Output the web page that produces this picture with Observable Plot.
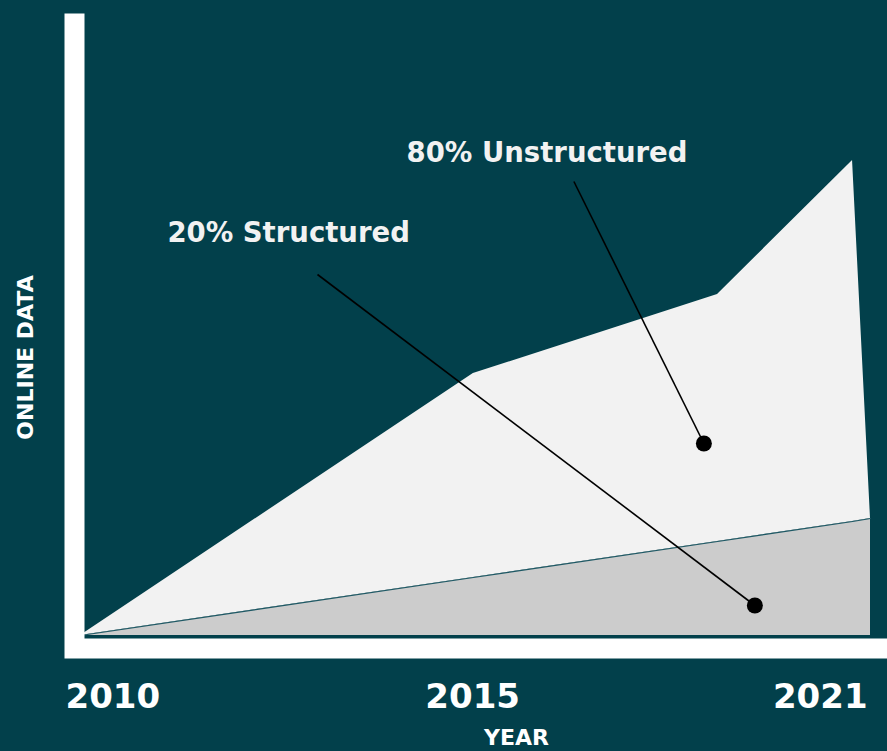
<!DOCTYPE html>
<html>
<head>
<meta charset="utf-8">
<script src="https://cdn.jsdelivr.net/npm/d3@7"></script>
<script src="https://cdn.jsdelivr.net/npm/@observablehq/plot@0.6"></script>
<style>
  html, body { margin: 0; padding: 0; background: #02404b; }
  #chart { width: 887px; height: 751px; overflow: hidden; }
</style>
</head>
<body>
<div id="chart"></div>
<script>
// Years (x positions of the shape's vertices)
const years = [2010, 2015.47, 2018.87, 2020.75, 2021];
// Structured data (lower, grey band)
const structured = [0, 58, 94, 114, 117];
// Total online data (top of the light band)
const unstructuredTop = [0, 262, 341, 475, 117];

// Tick labels along the bottom
const tickLabels = ["2010", "2015", "2021"];
const tickPositions = [2010.45, 2015.46, 2020.3];

// Annotations
const annotationLabels = ["80% Unstructured", "20% Structured"];
const annotationTextX = [2014.54, 2011.21];
const annotationTextY = [474, 394];
const leaderStartX = [2016.87, 2013.30];
const leaderStartY = [454, 361];
const leaderEndX = [2018.68, 2019.39];
const leaderEndY = [192, 30];

const rows = years.map((x, i) => ({x, s: structured[i], u: unstructuredTop[i]}));
const ticks = tickLabels.map((label, i) => ({label, x: tickPositions[i]}));
const notes = annotationLabels.map((label, i) => ({
  label, tx: annotationTextX[i], ty: annotationTextY[i],
  x1: leaderStartX[i], y1: leaderStartY[i], x2: leaderEndX[i], y2: leaderEndY[i]
}));
// the white L-shaped axis frame
const axisFrame = [
  {x: 2009.9165, y: 622},
  {x: 2009.9165, y: -13},
  {x: 2021.5, y: -13}
];

const font = "'DejaVu Sans', sans-serif";

const chart = Plot.plot({
  width: 887,
  height: 751,
  marginLeft: 80,
  marginRight: 17,
  marginTop: 5,
  marginBottom: 116,
  x: {domain: [2010, 2021], axis: null},
  y: {domain: [0, 630], axis: null},
  style: {background: "#02404b", fontFamily: font},
  marks: [
    Plot.areaY(rows, {x: "x", y1: "s", y2: "u", fill: "#f2f2f2", curve: "linear"}),
    Plot.areaY(rows, {x: "x", y1: 0, y2: "s", fill: "#cccccc"}),
    Plot.lineY(rows, {x: "x", y: "s", stroke: "#1d5864", strokeWidth: 1.2}),
    Plot.line(axisFrame, {x: "x", y: "y", stroke: "#ffffff", strokeWidth: 20,
      strokeLinejoin: "miter", strokeMiterlimit: 10, strokeLinecap: "butt"}),
    Plot.link(notes, {x1: "x1", y1: "y1", x2: "x2", y2: "y2", stroke: "#000000", strokeWidth: 1.6}),
    Plot.dot(notes, {x: "x2", y: "y2", r: 8, fill: "#000000"}),
    Plot.text(notes, {x: "tx", y: "ty", text: "label", textAnchor: "start", lineAnchor: "bottom",
      fill: "#f2f2f2", fontSize: 27.5, fontWeight: "bold", fontFamily: font}),
    Plot.text(ticks, {x: "x", y: -72, text: "label", textAnchor: "middle", lineAnchor: "bottom",
      fill: "#ffffff", fontSize: 34, fontWeight: "bold", fontFamily: font}),
    Plot.text(["YEAR"], {x: 2016.07, y: -109, text: d => d, textAnchor: "middle", lineAnchor: "bottom",
      fill: "#ffffff", fontSize: 22, fontWeight: "bold", fontFamily: font}),
    Plot.text(["ONLINE DATA"], {x: 2009.24, y: 278, text: d => d, rotate: -90, textAnchor: "middle",
      lineAnchor: "middle", fill: "#ffffff", fontSize: 22, fontWeight: "bold", fontFamily: font})
  ]
});
document.getElementById("chart").appendChild(chart);
</script>
</body>
</html>
